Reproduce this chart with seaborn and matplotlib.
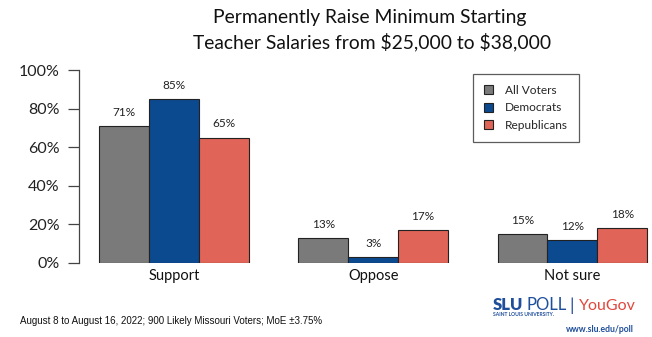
import matplotlib
matplotlib.use("Agg")
import matplotlib.pyplot as plt
import seaborn as sns
import pandas as pd

categories = ["Support", "Oppose", "Not sure"]
groups = ["All Voters", "Democrats", "Republicans"]
all_voters = [71, 13, 15]
democrats = [85, 3, 12]
republicans = [65, 17, 18]
y_ticks = [0, 20, 40, 60, 80, 100]
y_tick_labels = ["0%", "20%", "40%", "60%", "80%", "100%"]
colors = ["#7a7a7a", "#0c4a8f", "#e06457"]

rows = []
for g, vals in zip(groups, [all_voters, democrats, republicans]):
    for c, v in zip(categories, vals):
        rows.append({"category": c, "group": g, "value": v})
df = pd.DataFrame(rows)

sns.set_theme(style="white")
plt.rcParams["font.family"] = ["Lato", "DejaVu Sans"]
plt.rcParams["text.parse_math"] = False

fig = plt.figure(figsize=(6.52, 3.37), dpi=100)
ax = fig.add_axes([79 / 652, 74 / 337, 573 / 652, 193 / 337])

sns.barplot(data=df, x="category", y="value", hue="group", order=categories,
            hue_order=groups, palette=colors, width=0.75, edgecolor="#222222",
            linewidth=0.8, saturation=1, ax=ax, legend=True)

for cont in ax.containers:
    ax.bar_label(cont, labels=[f"{int(v)}%" for v in cont.datavalues],
                 padding=6, fontsize=8.5, color="#222222")

ax.set_ylim(0, 100)
ax.set_xlim(-0.477, 2.4)
ax.set_yticks(y_ticks)
ax.set_yticklabels(y_tick_labels, fontsize=11.5, color="#222222")
ax.tick_params(axis="y", length=8, width=0.9, color="#444444", pad=6, left=True)
ax.tick_params(axis="x", length=0, labelsize=10.5, pad=4, colors="#111111")
for s in ["top", "right", "bottom"]:
    ax.spines[s].set_visible(False)
ax.spines["left"].set_color("#444444")
ax.spines["left"].set_linewidth(0.9)
ax.set_xlabel("")
ax.set_ylabel("")

leg = ax.legend(loc="upper left", bbox_to_anchor=(394 / 573, 1 - 4 / 193),
                frameon=True, fancybox=False, fontsize=8.6, handlelength=0.8,
                handleheight=0.8, handletextpad=1.0, borderpad=0.9,
                labelspacing=0.55, borderaxespad=0)
leg.get_frame().set_edgecolor("#333333")
leg.get_frame().set_linewidth(0.9)
for h in leg.legend_handles:
    h.set_edgecolor("#222222")
    h.set_linewidth(0.8)

fig.text(370 / 652, 1 - 17 / 337, "Permanently Raise Minimum Starting",
         ha="center", va="center", fontsize=13.9, color="#111111")
fig.text(372 / 652, 1 - 42 / 337, "Teacher Salaries from $25,000 to $38,000",
         ha="center", va="center", fontsize=13.9, color="#111111")

fig.text(20 / 652, 1 - 321 / 337,
         "August 8 to August 16, 2022; 900 Likely Missouri Voters; MoE \u00b13.75%",
         ha="left", va="center", fontsize=7, color="#111111",
         family=["Liberation Sans", "DejaVu Sans"])

blue = "#1f4e9a"
fig.text(493 / 652, 1 - 310 / 337, "SLU", ha="left", va="baseline",
         fontsize=12, fontweight="heavy", color=blue)
fig.text(527 / 652, 1 - 310 / 337, "POLL", ha="left", va="baseline",
         fontsize=12, color=blue)
fig.text(493 / 652, 1 - 316 / 337, "SAINT LOUIS UNIVERSITY.", ha="left",
         va="baseline", fontsize=3.6, fontweight="bold", color=blue)
fig.text(569 / 652, 1 - 311 / 337, "|", ha="left", va="baseline",
         fontsize=13, color=blue)
fig.text(579 / 652, 1 - 310 / 337, "YouGov", ha="left", va="baseline",
         fontsize=11.5, color="#e0473d")
fig.text(634 / 652, 1 - 332 / 337, "www.slu.edu/poll", ha="right",
         va="baseline", fontsize=6.2, fontweight="bold", color=blue)

fig.savefig("out.png", dpi=100, facecolor="white")
